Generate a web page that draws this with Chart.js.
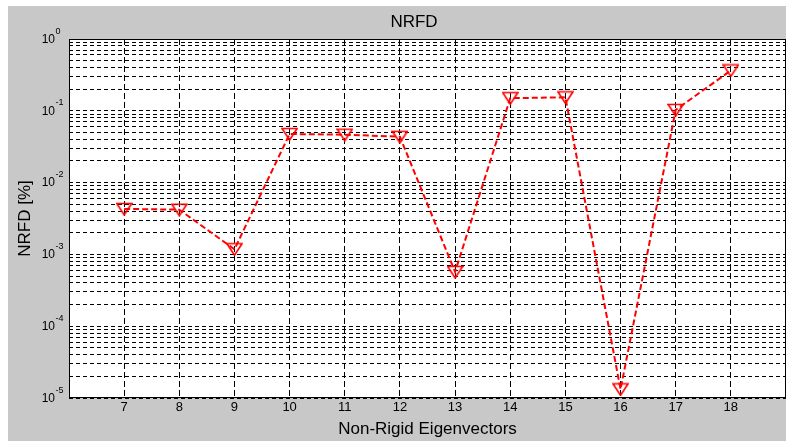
<!DOCTYPE html>
<html>
<head>
<meta charset="utf-8">
<script src="https://cdn.jsdelivr.net/npm/chart.js@4.4.1/dist/chart.umd.min.js"></script>
<style>
  html, body { margin: 0; padding: 0; background: #fff; }
  #wrap { width: 786px; height: 441px; }
</style>
</head>
<body>
<div id="wrap"><canvas id="nrfd" width="786" height="441"></canvas></div>
<script>
// NRFD per non-rigid eigenvector (log scale)
const eigenvectors = [7, 8, 9, 10, 11, 12, 13, 14, 15, 16, 17, 18];
const nrfdValues = [4.3e-3, 4.2e-3, 1.18e-3, 4.75e-2, 4.65e-2, 4.35e-2, 5.7e-4, 1.5e-1, 1.54e-1, 1.32e-5, 1.03e-1, 3.65e-1];

const xLimits = [6, 19];
const yDecadeExponents = ['-5', '-4', '-3', '-2', '-1', '0'];
const yMinorMultiples = [1, 2, 3, 4, 5, 6, 7, 8, 9];

const FONT = "'Liberation Sans', Arial, Helvetica, sans-serif";

// grid values: every 1..9 multiple inside each decade, plus the top decade
const yGridValues = [];
yDecadeExponents.forEach((e, i) => {
  const base = Math.pow(10, Number(e));
  if (i === yDecadeExponents.length - 1) {
    yGridValues.push(base);
  } else {
    yMinorMultiples.forEach(m => yGridValues.push(m * base));
  }
});

// downward triangle marker, outlined
function makeMarker() {
  const c = document.createElement('canvas');
  c.width = 17;
  c.height = 14;
  const g = c.getContext('2d');
  g.strokeStyle = '#ff0000';
  g.lineWidth = 1.6;
  g.beginPath();
  g.moveTo(1, 1.5);
  g.lineTo(16, 1.5);
  g.lineTo(8.5, 13);
  g.closePath();
  g.stroke();
  return c;
}

const framePlugin = {
  id: 'frame',
  beforeDraw(chart) {
    const { ctx, chartArea: a, width, height } = chart;
    ctx.save();
    ctx.fillStyle = '#ffffff';
    ctx.fillRect(0, 0, width, height);
    ctx.fillStyle = '#c8c8c8';
    ctx.fillRect(8, 6, width - 8, height - 6);
    ctx.fillStyle = '#ffffff';
    ctx.fillRect(a.left, a.top, a.right - a.left, a.bottom - a.top);
    ctx.restore();
  },
  beforeDatasetsDraw(chart) {
    const { ctx, chartArea: a } = chart;
    ctx.save();
    ctx.strokeStyle = '#000';
    ctx.lineWidth = 1;
    ctx.strokeRect(Math.round(a.left) + 0.5, Math.round(a.top) + 0.5,
      Math.round(a.right - a.left) - 1, Math.round(a.bottom - a.top) - 1);
    ctx.restore();
  },
  afterDraw(chart) {
    const { ctx, chartArea: a } = chart;
    const y = chart.scales.y;
    ctx.save();
    ctx.fillStyle = '#000';
    // title
    ctx.font = '17px ' + FONT;
    ctx.textAlign = 'center';
    ctx.textBaseline = 'alphabetic';
    ctx.fillText('NRFD', 414, 27);
    // decade labels with superscript exponent
    yDecadeExponents.forEach(e => {
      const py = y.getPixelForValue(Math.pow(10, Number(e)));
      ctx.font = '12px ' + FONT;
      ctx.textAlign = 'right';
      ctx.textBaseline = 'middle';
      ctx.fillText('10', a.left - 14, py + 0.5);
      ctx.font = '9px ' + FONT;
      ctx.textAlign = 'left';
      ctx.textBaseline = 'alphabetic';
      ctx.fillText(e, a.left - 13.5, py - 5.5);
    });
    ctx.restore();
  }
};

new Chart(document.getElementById('nrfd'), {
  type: 'line',
  data: {
    datasets: [{
      label: 'NRFD',
      data: eigenvectors.map((x, i) => ({ x: x, y: nrfdValues[i] })),
      borderColor: '#ff0000',
      borderWidth: 2,
      borderDash: [6, 3],
      pointStyle: makeMarker(),
      pointRadius: 7,
      tension: 0,
      fill: false,
      clip: false
    }]
  },
  options: {
    responsive: false,
    animation: false,
    devicePixelRatio: 1,
    layout: { autoPadding: false, padding: { top: 39, right: 0, left: 0, bottom: 0 } },
    plugins: {
      legend: { display: false },
      tooltip: { enabled: false },
      title: { display: false }
    },
    scales: {
      x: {
        type: 'linear',
        min: xLimits[0],
        max: xLimits[1],
        afterBuildTicks(scale) {
          scale.ticks = eigenvectors.map(v => ({ value: v }));
        },
        afterFit(scale) {
          scale.height = 43;
          scale.paddingLeft = 0;
          scale.paddingRight = 0;
        },
        grid: { color: '#000', lineWidth: 1, drawTicks: false },
        border: { display: false, dash: [6, 3] },
        ticks: {
          color: '#000',
          font: { family: FONT, size: 13 },
          padding: 2,
          maxRotation: 0,
          autoSkip: false
        },
        title: {
          display: true,
          text: 'Non-Rigid Eigenvectors',
          color: '#000',
          font: { family: FONT, size: 17 },
          padding: { top: 0, bottom: 1 }
        }
      },
      y: {
        type: 'logarithmic',
        min: 1e-5,
        max: 1,
        afterBuildTicks(scale) {
          scale.ticks = yGridValues.map(v => ({ value: v }));
        },
        afterFit(scale) {
          scale.width = 69;
          scale.paddingTop = 0;
          scale.paddingBottom = 0;
        },
        grid: { color: '#000', lineWidth: 1, drawTicks: false },
        border: { display: false, dash: [4, 3] },
        ticks: { display: false },
        title: {
          display: true,
          text: 'NRFD [%]',
          color: '#000',
          font: { family: FONT, size: 17 },
          padding: { top: 15, bottom: 0 }
        }
      }
    }
  },
  plugins: [framePlugin]
});
</script>
</body>
</html>
